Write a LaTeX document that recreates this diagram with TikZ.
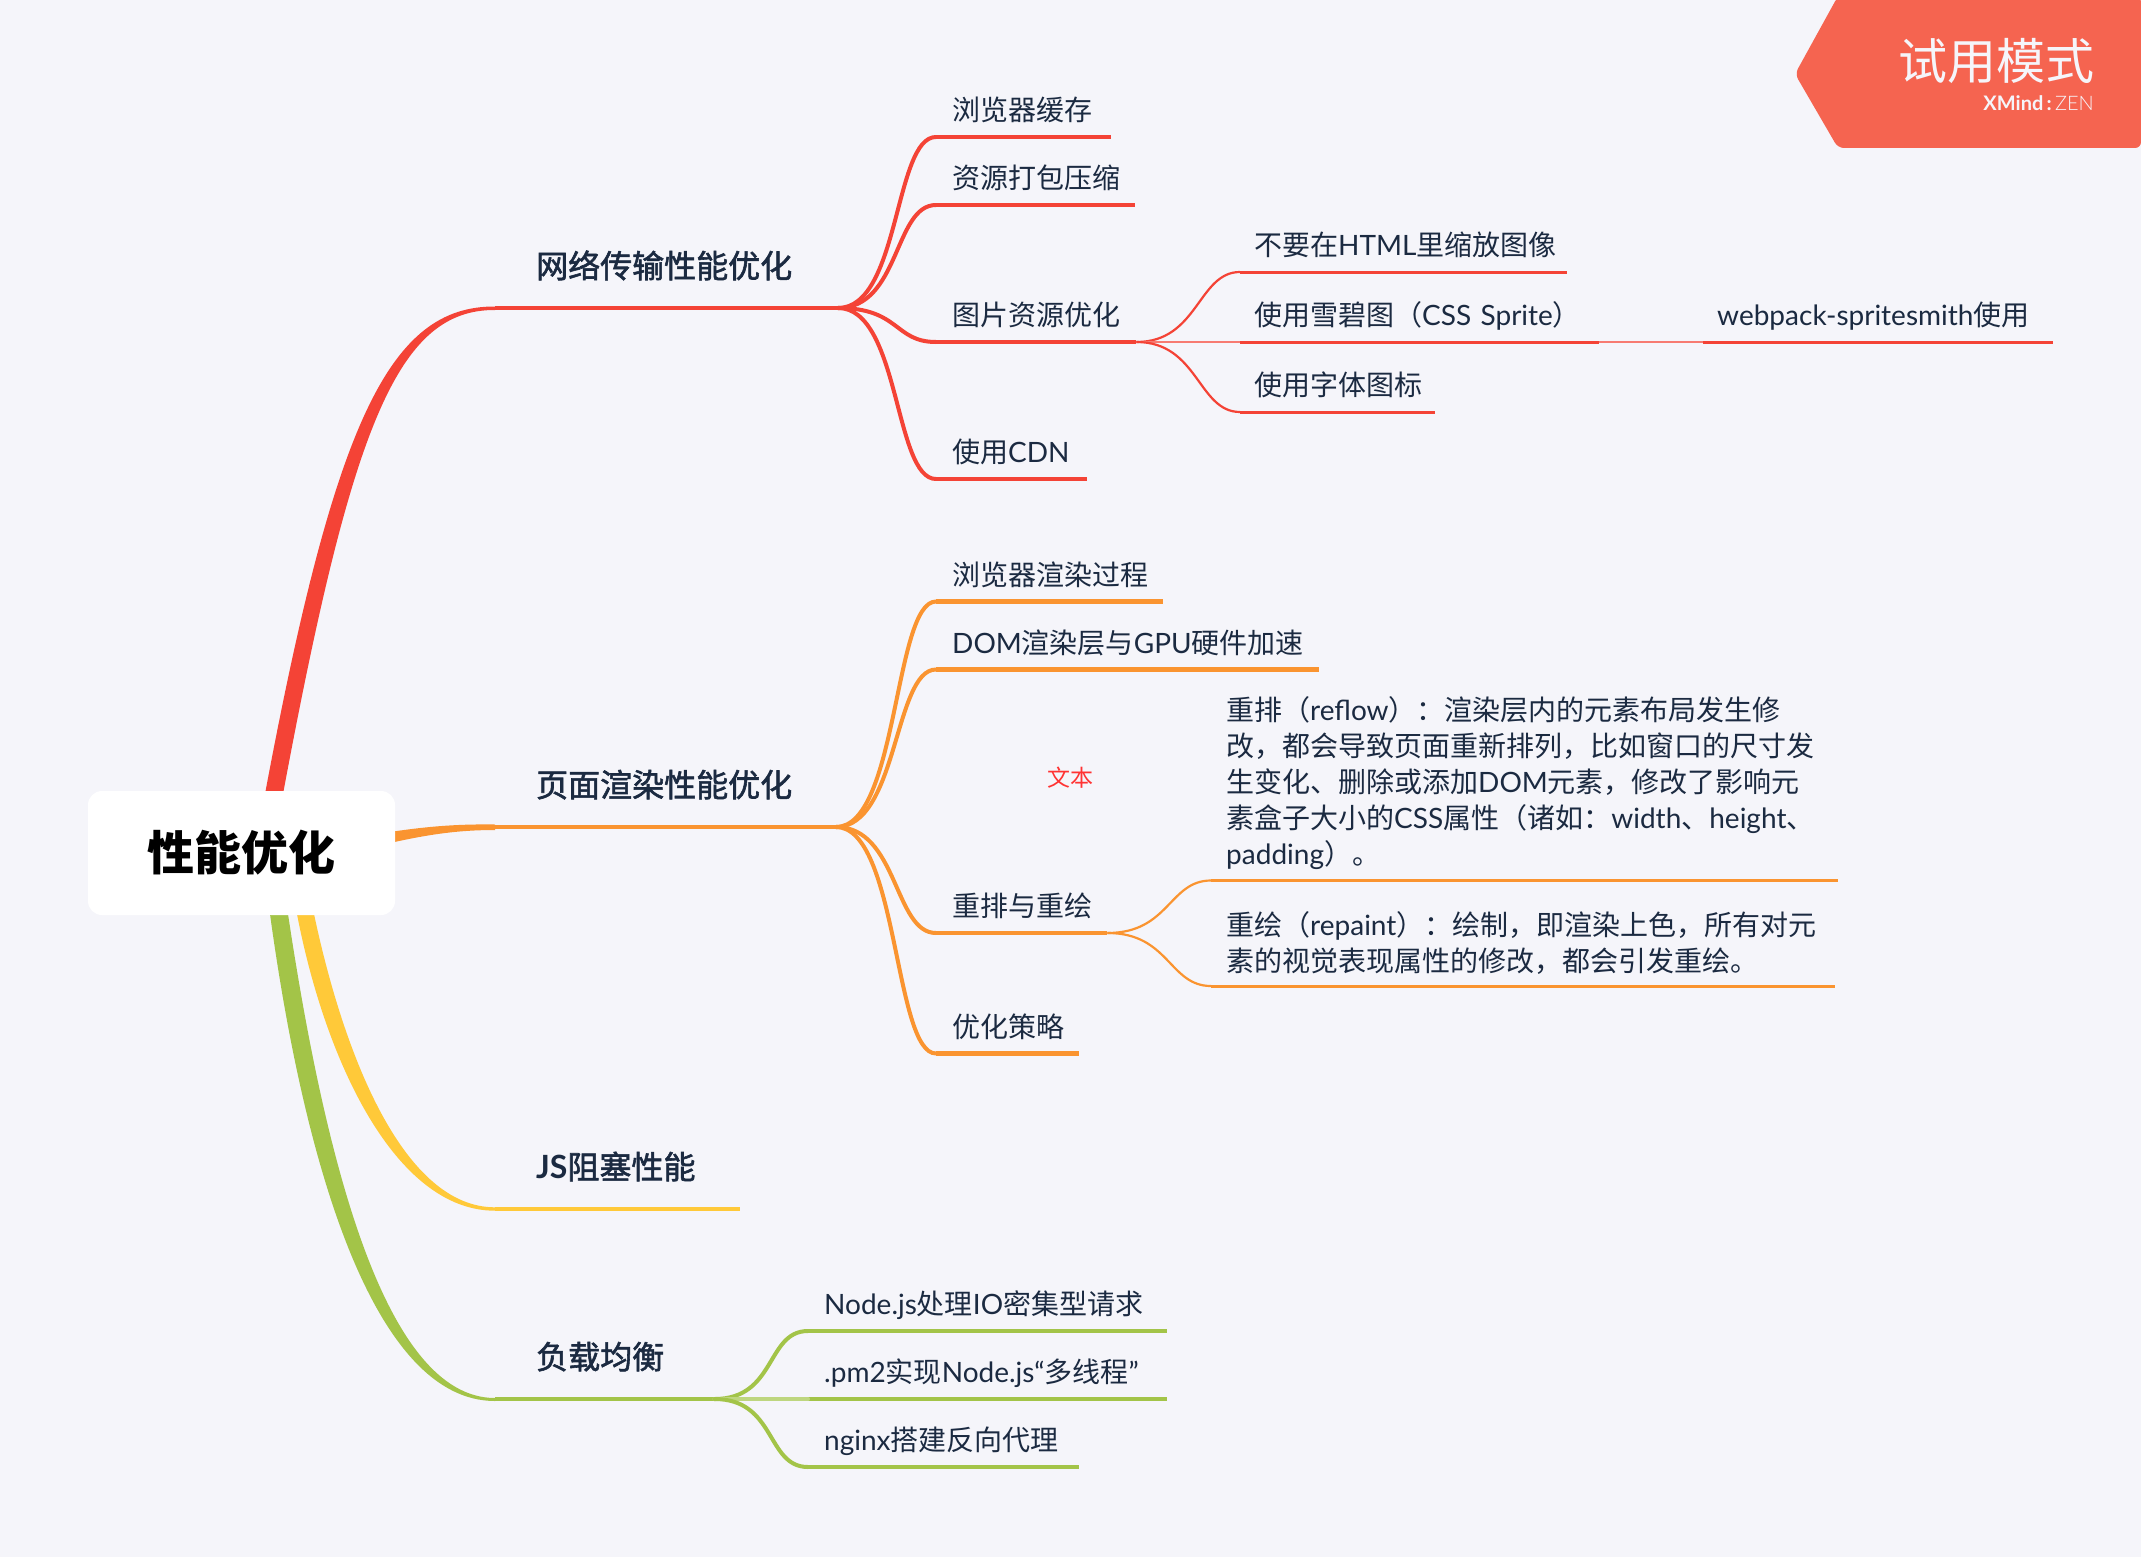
\documentclass[tikz,border=0pt]{standalone}
\usepackage{fontspec}
\setmainfont{Noto Sans CJK SC}
\newfontfamily\heavy[FakeBold=1.8]{Noto Sans CJK SC}
\newfontfamily\latin{Lato}
\newfontfamily\latinlight{Lato Light}

\definecolor{bgcol}{HTML}{F5F5FA}
\definecolor{inkcol}{HTML}{1B2A41}
\definecolor{redcol}{HTML}{F44336}
\definecolor{orangecol}{HTML}{FA9430}
\definecolor{yellowcol}{HTML}{FFC939}
\definecolor{greencol}{HTML}{A3C448}
\definecolor{badgecol}{HTML}{F56450}

\newcommand\en[1]{{\latin #1}}

\tikzset{
	topic/.style={anchor=south west, inner xsep=0, inner ysep=23, align=left, text height=25, text depth=7, text=inkcol, font=\fontsize{32}{38}\selectfont\heavy, execute at begin node=\hspace*{41pt}},
	tiptext/.style={anchor=south west, inner xsep=0, inner ysep=10, align=left, text height=22, text depth=6, text=inkcol, font=\fontsize{28}{36}\selectfont},
	leaf/.style={tiptext, execute at begin node=\hspace*{16pt}},
	subleaf/.style={tiptext, execute at begin node=\hspace*{14pt}},
	para/.style={anchor=south west, inner xsep=15, inner ysep=11, align=left, text=inkcol, font=\fontsize{28}{36}\selectfont},
	sway/.style={out=0, in=180, out distance=62, in distance=42},
	branch/.style={line width=4, line cap=round},
	twig/.style={line width=2.2},
	under/.style={line width=4.5},
	subunder/.style={line width=3}
}

\begin{document}
\begin{tikzpicture}[x=1pt, y=-1pt]
	\useasboundingbox (0, 0) rectangle (2141, 1557);
	\fill[bgcol] (0, 0) rectangle (2141, 1557);

	% 四条主干
	\coordinate (hubA) at (838, 308);
	\coordinate (hubB) at (836, 827);

	\fill[redcol] (265, 794) .. controls (335, 420) and (390, 306) .. (495, 306.5)
		-- (495, 310) .. controls (398, 309.5) and (352, 424) .. (283, 794) -- cycle;
	\fill[orangecol] (390, 832) .. controls (430, 826) and (460, 824) .. (495, 824.5)
		-- (495, 830) .. controls (460, 830) and (430, 834) .. (390, 843) -- cycle;
	\fill[yellowcol] (297, 914) .. controls (325, 1060) and (395, 1210.7) .. (495, 1210.7)
		-- (495, 1207.3) .. controls (405, 1207.3) and (345, 1060) .. (314, 914) -- cycle;
	\fill[greencol] (270, 914) .. controls (305, 1170) and (375, 1401) .. (495, 1401)
		-- (495, 1398) .. controls (385, 1398) and (325, 1160) .. (288, 914) -- cycle;

	% 中心主题
	\node[fill=white, rounded corners=14, minimum width=307, minimum height=124, font=\fontsize{47}{50}\selectfont\bfseries, text=black] (root) at (241.5, 853) {性能优化};

	% 网络传输性能优化
	\node[topic, text width=343] (wangluo) at (495, 308) {网络传输性能优化};
	\draw[redcol, under] (wangluo.south west) -- (hubA);
	\node[leaf, text width=175] (huancun) at (936, 137) {浏览器缓存};
	\node[leaf, text width=199] (dabao) at (936, 205) {资源打包压缩};
	\node[leaf, text width=200] (tupian) at (936, 342) {图片资源优化};
	\node[leaf, text width=151] (cdn) at (936, 479) {使用\en{CDN}};
	\draw[redcol, under] (huancun.south west) -- (huancun.south east);
	\draw[redcol, under] (dabao.south west) -- (dabao.south east);
	\draw[redcol, under] (tupian.south west) -- (tupian.south east);
	\draw[redcol, under] (cdn.south west) -- (cdn.south east);
	\draw[redcol, branch] (hubA) to[sway] (huancun.south west);
	\draw[redcol, branch] (hubA) to[sway] (dabao.south west);
	\draw[redcol, branch] (hubA) to[sway] (tupian.south west);
	\draw[redcol, branch] (hubA) to[sway] (cdn.south west);

	% 图片资源优化的子节点
	\node[subleaf, text width=327] (html) at (1240, 272) {不要在\en{HTML}里缩放图像};
	\node[subleaf, text width=359] (xuebi) at (1240, 342) {使用雪碧图（\en{CSS Sprite}）};
	\node[subleaf, text width=195] (ziti) at (1240, 412) {使用字体图标};
	\node[subleaf, text width=350] (webpack) at (1703, 342) {\en{webpack-spritesmith}使用};
	\draw[redcol, subunder] (html.south west) -- (html.south east);
	\draw[redcol, subunder] (xuebi.south west) -- (xuebi.south east);
	\draw[redcol, subunder] (ziti.south west) -- (ziti.south east);
	\draw[redcol, subunder] (webpack.south west) -- (webpack.south east);
	\draw[redcol, twig] (tupian.south east) to[sway] (html.south west);
	\draw[redcol!70, twig] (tupian.south east) -- (xuebi.south west);
	\draw[redcol, twig] (tupian.south east) to[sway] (ziti.south west);
	\draw[redcol!70, twig] (xuebi.south east) -- (webpack.south west);

	% 页面渲染性能优化
	\node[topic, text width=341] (yemian) at (495, 827) {页面渲染性能优化};
	\draw[orangecol, under] (yemian.south west) -- (hubB);
	\node[leaf, text width=227] (guocheng) at (936, 601.5) {浏览器渲染过程};
	\node[leaf, text width=383] (dom) at (936, 669.5) {\en{DOM}渲染层与\en{GPU}硬件加速};
	\node[leaf, text width=171] (chongpai) at (936, 933) {重排与重绘};
	\node[leaf, text width=143] (celue) at (936, 1053.5) {优化策略};
	\node[text=red!80, font=\fontsize{23}{26}\selectfont, inner sep=0] (wenben) at (1070, 778) {文本};
	\draw[orangecol, under] (guocheng.south west) -- (guocheng.south east);
	\draw[orangecol, under] (dom.south west) -- (dom.south east);
	\draw[orangecol, under] (chongpai.south west) -- (chongpai.south east);
	\draw[orangecol, under] (celue.south west) -- (celue.south east);
	\draw[orangecol, branch] (hubB) to[sway] (guocheng.south west);
	\draw[orangecol, branch] (hubB) to[sway] (dom.south west);
	\draw[orangecol, branch] (hubB) to[sway] (chongpai.south west);
	\draw[orangecol, branch] (hubB) to[sway] (celue.south west);

	% 重排与重绘的子节点
	\node[para, text width=597] (reflow) at (1211, 880.5) {重排（\en{reflow}）：渲染层内的元素布局发生修\\改，都会导致页面重新排列，比如窗口的尺寸发\\生变化、删除或添加\en{DOM}元素，修改了影响元\\素盒子大小的\en{CSS}属性（诸如：\en{width}、\en{height}、\\\en{padding}）。};
	\node[para, text width=594] (repaint) at (1211, 986) {重绘（\en{repaint}）：绘制，即渲染上色，所有对元\\素的视觉表现属性的修改，都会引发重绘。};
	\draw[orangecol, subunder] (reflow.south west) -- (reflow.south east);
	\draw[orangecol, subunder] (repaint.south west) -- (repaint.south east);
	\draw[orangecol, twig] (chongpai.south east) to[sway] (reflow.south west);
	\draw[orangecol, twig] (chongpai.south east) to[sway] (repaint.south west);

	% JS阻塞性能
	\node[topic, text width=245] (zuse) at (495, 1209) {\en{\bfseries JS}阻塞性能};
	\draw[yellowcol, under] (zuse.south west) -- (zuse.south east);

	% 负载均衡
	\node[topic, text width=219] (fuzai) at (495, 1399) {负载均衡};
	\draw[greencol, under] (fuzai.south west) -- (fuzai.south east);
	\node[leaf, text width=359] (nodejs) at (808, 1331) {\en{Node.js}处理\en{IO}密集型请求};
	\node[leaf, text width=359] (pmtwo) at (808, 1399) {\en{.pm2}实现\en{Node.js“}多线程\en{”}};
	\node[leaf, text width=271] (nginx) at (808, 1467) {\en{nginx}搭建反向代理};
	\draw[greencol, under] (nodejs.south west) -- (nodejs.south east);
	\draw[greencol, under] (pmtwo.south west) -- (pmtwo.south east);
	\draw[greencol, under] (nginx.south west) -- (nginx.south east);
	\draw[greencol, branch] (fuzai.south east) to[sway] (nodejs.south west);
	\draw[greencol!70, branch] (fuzai.south east) -- (pmtwo.south west);
	\draw[greencol, branch] (fuzai.south east) to[sway] (nginx.south west);

	% 右上角标记
	\fill[badgecol, rounded corners=6] (1795, 74) -- (1838, -4) -- (2141, -4) -- (2141, 148) -- (1838, 148) -- cycle;
	\node[anchor=east, text=bgcol, inner sep=0, font=\fontsize{49}{50}\selectfont] (shiyong) at (2095, 61) {试用模式};
	\node[anchor=east, text=bgcol, inner sep=0, font=\fontsize{20}{21}\selectfont] (xmind) at (2094, 103) {{\latin\bfseries XMind\,:}\,{\latinlight ZEN}};
\end{tikzpicture}
\end{document}
